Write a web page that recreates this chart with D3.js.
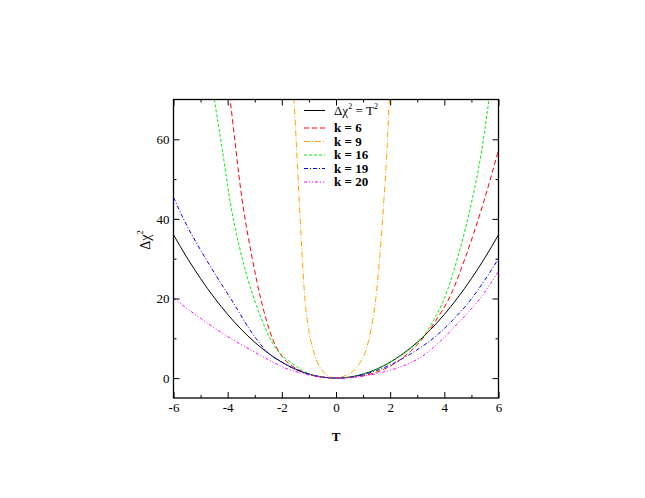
<!DOCTYPE html>
<html>
<head>
<meta charset="utf-8">
<script src="https://cdn.jsdelivr.net/npm/d3@7"></script>
<style>
  body { margin: 0; background: #fff; }
  text { font-family: "Liberation Serif", "DejaVu Serif", serif; }
</style>
</head>
<body>
<div id="chart"></div>
<script>
// Chart size and plot box
var svgWidth = 645;
var svgHeight = 498;
var plot = { left: 173.5, right: 498.5, top: 99.5, bottom: 398 };

// Axis ticks
var xMajor = [-6, -4, -2, 0, 2, 4, 6];
var xMinor = [-5, -3, -1, 1, 3, 5];
var yMajor = [0, 20, 40, 60];
var yMinor = [10, 30, 50];

// Series values (T, delta chi^2)
var tRef = [-6, -5.5, -5, -4.5, -4, -3.5, -3, -2.5, -2, -1.5, -1, -0.5, 0, 0.5, 1, 1.5, 2, 2.5, 3, 3.5, 4, 4.5, 5, 5.5, 6];
var chiRef = [36, 30.25, 25, 20.25, 16, 12.25, 9, 6.25, 4, 2.25, 1, 0.25, 0, 0.25, 1, 2.25, 4, 6.25, 9, 12.25, 16, 20.25, 25, 30.25, 36];

var tK6 = [-4.0, -3.91, -3.46, -3.09, -2.78, -2.35, -2.0, -1.58, -1.0, -0.5, 0, 0.5, 1, 1.5, 2, 2.5, 3, 3.35, 3.7, 4.21, 4.76, 5.44, 6];
var chiK6 = [75, 70, 44.5, 30, 20, 10, 5.5, 2.9, 1.0, 0.25, 0, 0.15, 0.6, 1.5, 3.0, 5.3, 8.4, 11.2, 14.6, 20.5, 30, 44, 57.3];

var tK9 = [-1.6, -1.55, -1.45, -1.36, -1.26, -1.15, -1.05, -0.84, -0.6, -0.34, 0, 0.4, 0.7, 0.9, 1.13, 1.3, 1.47, 1.62, 1.77, 1.88, 1.97, 2.02];
var chiK9 = [76, 70, 57, 45, 32, 20, 14, 7, 2.8, 0.8, 0, 0.8, 2.2, 4.0, 7.5, 12.5, 20, 31, 45, 57, 70, 76];

var tK16 = [-4.6, -4.49, -4.2, -3.9, -3.46, -3.03, -2.68, -2.47, -2.19, -1.8, -1.45, -1.2, -0.6, 0, 0.6, 1.2, 2.0, 2.67, 3.2, 3.6, 4.0, 4.5, 5.0, 5.35, 5.65, 5.75];
var chiK16 = [75, 70, 57.5, 44, 30, 20, 13.7, 10.5, 7.2, 4.6, 2.9, 1.7, 0.4, 0, 0.35, 1.4, 4, 7, 10.3, 14.5, 20, 30.5, 44, 56, 70, 75];

var tK19 = [-6, -5.63, -4.81, -3.89, -2.96, -2.5, -2, -1.5, -1, -0.5, 0, 0.5, 1, 1.5, 2, 2.73, 3.59, 4.3, 5.01, 5.5, 6];
var chiK19 = [45.4, 40, 30, 20, 10, 6.3, 4, 2.2, 1, 0.25, 0, 0.2, 0.85, 1.9, 3.3, 6, 10, 14.5, 20, 24.7, 30];

var tK20 = [-6, -5, -3.89, -3, -2.4, -1.9, -1.2, -0.6, 0, 0.6, 1.2, 1.8, 2.49, 3.17, 3.96, 4.6, 5.32, 6];
var chiK20 = [20.1, 15, 10, 6.5, 4.3, 2.6, 1.1, 0.3, 0, 0.2, 0.7, 1.6, 3.1, 5.4, 10, 14.5, 20, 26.8];

// Series styles
var series = [
  { label: "ref", t: tRef, v: chiRef, color: "#000000", dash: null },
  { label: "k = 6", t: tK6, v: chiK6, color: "#ff0000", dash: "5,3" },
  { label: "k = 9", t: tK9, v: chiK9, color: "#ffa500", dash: "6,2,1,2" },
  { label: "k = 16", t: tK16, v: chiK16, color: "#00ee00", dash: "3,2" },
  { label: "k = 19", t: tK19, v: chiK19, color: "#0000ff", dash: "4,2,1,2" },
  { label: "k = 20", t: tK20, v: chiK20, color: "#ff00ff", dash: "3,2,1,2,1,2" }
];

var svg = d3.select("#chart")
  .append("svg")
  .attr("width", svgWidth)
  .attr("height", svgHeight);

var xScale = d3.scaleLinear().domain([-6, 6]).range([plot.left, plot.right]);
var yScale = d3.scaleLinear().domain([-5, 70]).range([plot.bottom, plot.top]);

// Clip curves to the plot box
svg.append("clipPath").attr("id", "clip")
  .append("rect")
  .attr("x", plot.left).attr("y", plot.top)
  .attr("width", plot.right - plot.left)
  .attr("height", plot.bottom - plot.top);

var line = d3.line()
  .x(d => xScale(d[0]))
  .y(d => yScale(d[1]))
  .curve(d3.curveMonotoneX);

var curves = svg.append("g").attr("clip-path", "url(#clip)");
series.forEach(function(s) {
  curves.append("path")
    .datum(s.t.map((t, i) => [t, s.v[i]]))
    .attr("d", line)
    .attr("fill", "none")
    .attr("stroke", s.color)
    .attr("stroke-width", 1)
    .attr("stroke-dasharray", s.dash);
});

// Axes, ticks pointing inward on all four sides
function styleAxis(g) {
  g.select(".domain").remove();
  g.selectAll("line").attr("stroke", "#000").attr("stroke-width", 1);
  g.selectAll("text").attr("font-size", 13).attr("fill", "#000")
    .attr("font-family", "Liberation Serif, serif");
}

// plain hyphen for negatives, like the original
var plainFormat = d => String(d);

svg.append("g")
  .attr("transform", `translate(0, ${plot.bottom})`)
  .call(d3.axisBottom(xScale).tickValues(xMajor).tickSize(-6).tickSizeOuter(0).tickPadding(5).tickFormat(plainFormat))
  .call(styleAxis);
svg.append("g")
  .attr("transform", `translate(0, ${plot.bottom})`)
  .call(d3.axisBottom(xScale).tickValues(xMinor).tickSize(-3).tickSizeOuter(0).tickFormat(""))
  .call(styleAxis);
svg.append("g")
  .attr("transform", `translate(0, ${plot.top})`)
  .call(d3.axisTop(xScale).tickValues(xMajor).tickSize(-6).tickSizeOuter(0).tickFormat(""))
  .call(styleAxis);
svg.append("g")
  .attr("transform", `translate(0, ${plot.top})`)
  .call(d3.axisTop(xScale).tickValues(xMinor).tickSize(-3).tickSizeOuter(0).tickFormat(""))
  .call(styleAxis);

svg.append("g")
  .attr("transform", `translate(${plot.left}, 0)`)
  .call(d3.axisLeft(yScale).tickValues(yMajor).tickSize(-6).tickSizeOuter(0).tickPadding(4).tickFormat(plainFormat))
  .call(styleAxis);
svg.append("g")
  .attr("transform", `translate(${plot.left}, 0)`)
  .call(d3.axisLeft(yScale).tickValues(yMinor).tickSize(-3).tickSizeOuter(0).tickFormat(""))
  .call(styleAxis);
svg.append("g")
  .attr("transform", `translate(${plot.right}, 0)`)
  .call(d3.axisRight(yScale).tickValues(yMajor).tickSize(-6).tickSizeOuter(0).tickFormat(""))
  .call(styleAxis);
svg.append("g")
  .attr("transform", `translate(${plot.right}, 0)`)
  .call(d3.axisRight(yScale).tickValues(yMinor).tickSize(-3).tickSizeOuter(0).tickFormat(""))
  .call(styleAxis);

// Frame
svg.append("rect")
  .attr("x", plot.left).attr("y", plot.top)
  .attr("width", plot.right - plot.left)
  .attr("height", plot.bottom - plot.top)
  .attr("fill", "none")
  .attr("stroke", "#000")
  .attr("stroke-width", 1.3);

// Axis titles
svg.append("text")
  .attr("x", (plot.left + plot.right) / 2)
  .attr("y", 441)
  .attr("text-anchor", "middle")
  .attr("font-size", 13)
  .attr("font-weight", "bold")
  .text("T");

var yTitle = svg.append("text")
  .attr("transform", "translate(150, 240) rotate(-90)")
  .attr("text-anchor", "middle")
  .attr("font-size", 14);
yTitle.append("tspan").text("\u0394\u03c7");
yTitle.append("tspan").attr("font-size", 9).attr("dy", -7).text("2");

// Legend
var legendRows = [114.5, 132, 145.5, 159, 172.5, 186];
var legend = svg.append("g");
series.forEach(function(s, i) {
  var y = legendRows[i];
  legend.append("line")
    .attr("x1", 304).attr("x2", 325)
    .attr("y1", y - 4).attr("y2", y - 4)
    .attr("stroke", s.color)
    .attr("stroke-width", 1)
    .attr("stroke-dasharray", s.dash);
  var t = legend.append("text")
    .attr("x", 334).attr("y", y)
    .attr("font-size", 13);
  if (i === 0) {
    t.append("tspan").text("\u0394\u03c7");
    t.append("tspan").attr("font-size", 8).attr("dy", -6).text("2");
    t.append("tspan").attr("dy", 6).text(" = T");
    t.append("tspan").attr("font-size", 8).attr("dy", -6).text("2");
  } else {
    t.attr("font-weight", "bold").text(s.label);
  }
});
</script>
</body>
</html>
